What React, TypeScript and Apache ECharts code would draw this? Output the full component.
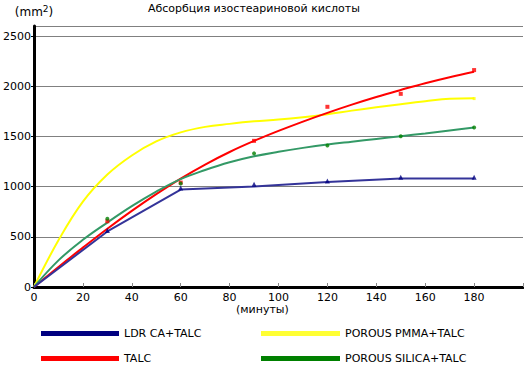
import React, { useEffect, useRef } from 'react';
import * as echarts from 'echarts';

const chartTitle = 'Абсорбция изостеариновой кислоты';
const xAxisName = '(минуты)';
const seriesNames = ['LDR CA+TALC', 'TALC', 'POROUS PMMA+TALC', 'POROUS SILICA+TALC'];

// fitted curves (minutes -> mm2)
const curveMinutes = [0, 10, 20, 30, 40, 50, 60, 70, 80, 90, 100, 110, 120, 130, 140, 150, 160, 170, 180];
const pmmaCurve = [0, 465, 850, 1120, 1310, 1450, 1540, 1595, 1625, 1650, 1668, 1692, 1722, 1757, 1790, 1821, 1850, 1875, 1880];
const talcCurve = [0, 200, 392, 580, 758, 925, 1080, 1220, 1345, 1455, 1555, 1648, 1735, 1817, 1893, 1963, 2030, 2090, 2144];
const silicaCurve = [0, 265, 470, 642, 805, 950, 1075, 1165, 1242, 1302, 1347, 1386, 1420, 1448, 1475, 1502, 1530, 1560, 1588];

// LDR polyline
const ldrMinutes = [0, 30, 60, 90, 120, 150, 180];
const ldrLine = [0, 553, 971, 1001, 1047, 1080, 1080];

// measured points
const sampleMinutes = [30, 60, 90, 120, 150, 180];
const ldrPoints = [563, 985, 1024, 1057, 1094, 1094];
const talcPoints = [655, 1040, 1456, 1795, 1924, 2161];
const silicaPoints = [679, 1031, 1331, 1410, 1502, 1588];
const pmmaPointMinutes = [180];
const pmmaPoints = [1877];

const yTicksMax = 2600;
const xTicksMax = 200;

const lineColors = ['#343499', '#ff0000', '#ffff00', '#339966'];
const legendColors = ['#000080', '#ff0000', '#ffff33', '#008000'];

const zip = (xs: number[], ys: number[]) => xs.map((x, i) => [x, ys[i]]);

export default function App() {
  const ref = useRef<HTMLDivElement>(null);
  useEffect(() => {
    if (!ref.current) return;
    const chart = echarts.init(ref.current, null, { renderer: 'svg' });
    const font = 'DejaVu Sans';
    const legendItem = (i: number) => ({ name: seriesNames[i], itemStyle: { color: legendColors[i] } });
    chart.setOption({
      animation: false,
      textStyle: { fontFamily: font },
      title: {
        text: chartTitle,
        left: 148,
        top: 3,
        padding: 0,
        textStyle: { fontFamily: font, fontSize: 11, fontWeight: 'normal', color: '#000' },
      },
      grid: { left: 34, right: 1, top: 26, bottom: 83, outerBoundsMode: 'none', containLabel: false },
      legend: [
        {
          orient: 'vertical',
          left: 41,
          top: 328,
          padding: 0,
          icon: 'rect',
          itemWidth: 78,
          itemHeight: 5,
          itemGap: 14,
          textStyle: { fontFamily: font, fontSize: 11, color: '#000' },
          data: [legendItem(0), legendItem(1)],
        },
        {
          orient: 'vertical',
          left: 261,
          top: 328,
          padding: 0,
          icon: 'rect',
          itemWidth: 79,
          itemHeight: 5,
          itemGap: 14,
          textStyle: { fontFamily: font, fontSize: 11, color: '#000' },
          data: [legendItem(2), legendItem(3)],
        },
      ],
      graphic: [
        {
          type: 'text',
          left: 236,
          top: 304,
          style: { text: xAxisName, font: `11px "${font}"`, fill: '#000' },
        },
      ],
      xAxis: {
        type: 'value',
        min: 0,
        max: xTicksMax,
        interval: 20,
        axisLine: { lineStyle: { color: '#000', width: 3 } },
        axisTick: { show: true, inside: true, length: 4, lineStyle: { color: '#888', width: 1 } },
        axisLabel: {
          color: '#000',
          fontSize: 11,
          fontFamily: font,
          margin: 5,
          formatter: (v: number) => (v >= xTicksMax ? '' : String(v)),
        },
        splitLine: { show: false },
      },
      yAxis: {
        type: 'value',
        min: 0,
        max: yTicksMax,
        interval: 500,
        name: '(mm{sup|2})',
        nameLocation: 'end',
        nameGap: 6,
        nameTextStyle: {
          color: '#000',
          fontSize: 12,
          fontFamily: font,
          align: 'center',
          rich: { sup: { fontSize: 9, padding: [0, 0, 7, 0], fontFamily: font, color: '#000' } },
        },
        axisLine: { show: true, lineStyle: { color: '#000', width: 3 } },
        axisTick: { show: true, inside: false, length: 3, lineStyle: { color: '#000', width: 1 } },
        axisLabel: { color: '#000', fontSize: 11, fontFamily: font, margin: 3, formatter: (v: number) => String(v) },
        splitLine: { show: true, lineStyle: { color: '#808080', width: 1 } },
      },
      series: [
        {
          name: seriesNames[2],
          type: 'line',
          smooth: 0.4,
          showSymbol: false,
          data: zip(curveMinutes, pmmaCurve),
          lineStyle: { color: lineColors[2], width: 2 },
          itemStyle: { color: lineColors[2] },
          z: 2,
        },
        {
          name: seriesNames[1],
          type: 'line',
          smooth: 0.4,
          showSymbol: false,
          data: zip(curveMinutes, talcCurve),
          lineStyle: { color: lineColors[1], width: 2 },
          itemStyle: { color: lineColors[1] },
          z: 3,
        },
        {
          name: seriesNames[3],
          type: 'line',
          smooth: 0.4,
          showSymbol: false,
          data: zip(curveMinutes, silicaCurve),
          lineStyle: { color: lineColors[3], width: 2 },
          itemStyle: { color: lineColors[3] },
          z: 3,
        },
        {
          name: seriesNames[0],
          type: 'line',
          showSymbol: false,
          data: zip(ldrMinutes, ldrLine),
          lineStyle: { color: lineColors[0], width: 2 },
          itemStyle: { color: lineColors[0] },
          z: 4,
        },
        {
          name: 'talc-points',
          type: 'scatter',
          symbol: 'rect',
          symbolSize: 4,
          data: zip(sampleMinutes, talcPoints),
          itemStyle: { color: '#ff0000' },
          z: 5,
        },
        {
          name: 'silica-points',
          type: 'scatter',
          symbol: 'circle',
          symbolSize: 4,
          data: zip(sampleMinutes, silicaPoints),
          itemStyle: { color: '#008000' },
          z: 6,
        },
        {
          name: 'ldr-points',
          type: 'scatter',
          symbol: 'triangle',
          symbolSize: 5,
          data: zip(sampleMinutes, ldrPoints),
          itemStyle: { color: '#000080' },
          z: 6,
        },
        {
          name: 'pmma-points',
          type: 'scatter',
          symbol: 'rect',
          symbolSize: 3,
          data: zip(pmmaPointMinutes, pmmaPoints),
          itemStyle: { color: '#ffff00' },
          z: 5,
        },
      ],
    });
    return () => chart.dispose();
  }, []);
  return <div ref={ref} style={{ width: 524, height: 370, position: 'absolute', left: 0, top: 0 }} />;
}
